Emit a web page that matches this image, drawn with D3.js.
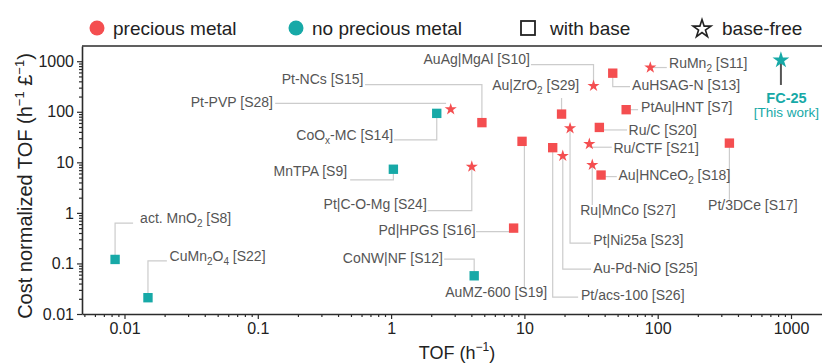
<!DOCTYPE html>
<html><head><meta charset="utf-8">
<script src="https://cdn.jsdelivr.net/npm/d3@7"></script>
<style>body{margin:0;background:#fff}svg{display:block;font-family:"Liberation Sans",Arial,Helvetica,sans-serif}</style>
</head><body><svg id="c" width="822" height="364"></svg>
<script>
// ---------- data ----------
const names = ["act. MnO_{2} [S8]","CuMn_{2}O_{4} [S22]","CoNW|NF [S12]","MnTPA [S9]","CoO_{x}-MC [S14]",
  "Pt-NCs [S15]","Pt-PVP [S28]","Pt|C-O-Mg [S24]","Pd|HPGS [S16]","AuMZ-600 [S19]","Pt/acs-100 [S26]",
  "Au-Pd-NiO [S25]","Pt|Ni25a [S23]","Ru|MnCo [S27]","Pt/3DCe [S17]","AuAg|MgAl [S10]","Au|ZrO_{2} [S29]",
  "AuHSAG-N [S13]","RuMn_{2} [S11]","PtAu|HNT [S7]","Ru/C [S20]","Ru/CTF [S21]","Au|HNCeO_{2} [S18]","FC-25"];
const tof  = [0.0085,0.015,4.2,1.04,2.2, 4.8,2.8,4.03,8.3,9.6,16.3, 19.4,22,32.3,345,33,19, 46,88,58,36.5,30.7,37.6, 840];
const cost = [0.12,0.021,0.057,7.3,93, 61,112,8.2,0.5,26,19.5, 13.4,47,8.9,24,325,90, 580,750,110,49,23.1,5.6, 1050];
const precious = [0,0,0,0,0, 1,1,1,1,1,1, 1,1,1,1,1,1, 1,1,1,1,1,1, 0];
const baseFree = [0,0,0,0,0, 0,1,1,0,0,0, 1,1,1,0,1,0, 0,1,0,0,1,0, 1];
const thisWork = "[This work]";

// annotation layout, expressed in data units (TOF, cost)
const leaders = [
  [[0.0085,0.12],[0.0085,0.63],[0.0116,0.63]],
  [[0.015,0.021],[0.015,0.112],[0.0208,0.112]],
  [[4.2,0.057],[4.2,0.122],[2.5,0.122]],
  [[1.04,7.3],[1.04,4.49],[0.493,4.49]],
  [[2.2,93],[2.2,27.7],[1.05,27.7]],
  [[4.8,61],[4.8,343],[0.638,343]],
  [[2.585,147],[0.135,147]],
  [[4.03,8.2],[4.03,1.11],[1.88,1.11]],
  [[8.3,0.427],[4.34,0.427]],
  [[10,26],[10,0.0325]],
  [[16.3,19.5],[16.3,0.0216],[25.3,0.0216]],
  [[19.4,13.4],[19.4,0.0772],[31.6,0.0772]],
  [[22,47],[22,0.252],[31.6,0.252]],
  [[32.3,8.9],[32.3,1.44]],
  [[345,24],[345,1.81]],
  [[33,325],[33,853],[11.2,853]],
  [[19,90],[19,187]],
  [[46,580],[46,313],[62,313]],
  [[88,750],[117,750]],
  [[58,110],[71.2,110]],
  [[36.5,43.7],[58.9,43.7]],
  [[30.7,19.9],[45.2,19.9]],
  [[37.6,5.22],[49.3,5.22]],
  [[840,1050],[840,339]]
];
const labelAt = [[0.0131,0.63],[0.0218,0.112],[2.45,0.104],[0.468,5.3],[1.035,27.7],
  [0.62,349],[0.13,127],[1.853,1.17],[4.3,0.367],[14.8,0.0214],[26.6,0.0191],
  [32.9,0.066],[32.9,0.233],[26.2,0.91],[238.6,1.15],[11.0,868],[25.8,270],
  [64.2,270],[121.6,720],[75,97],[60.4,34.8],[46.5,15.3],[50.7,4.49],[925,187]];
const labelAnchor = ["start","start","end","end","end","end","end","end","end","end","start",
  "start","start","start","start","end","end","start","start","start","start","start","start","middle"];
const thisWorkAt = [925,99];

const tickValues = [0.01,0.1,1,10,100,1000];
const tickLabels = ["0.01","0.1","1","10","100","1000"];
const legendLabels = ["precious metal","no precious metal","with base","base-free"];

// ---------- drawing ----------
const RED="#F44E50", TEAL="#17A9A7", LEAD="#cccccc", AX="#2b2b2b", TXT="#555555";
const svg = d3.select("#c");
const x = d3.scaleLog().domain([0.0048,1708]).range([82,822]);
const y = d3.scaleLog().domain([0.01,2000]).range([314,46]);
const [x0,x1]=x.range(), [yb,yt]=y.range();

function rich(sel, str, subSize, subDy){
  const parts = str.split(/(_\{[^}]*\}|\^\{[^}]*\})/).filter(s=>s.length);
  let shift=0;
  parts.forEach(p=>{
    if(p.startsWith("_{")||p.startsWith("^{")){
      const d = p[0]==="_" ? subDy : -subDy*1.6;
      sel.append("tspan").attr("font-size",subSize).attr("dy",d-shift).text(p.slice(2,-1));
      shift=d;
    } else {
      sel.append("tspan").attr("dy",-shift).text(p);
      shift=0;
    }
  });
}

// minor ticks
const minors=[];
for(let e=-3;e<=3;e++) for(let k=2;k<=9;k++){ minors.push(k*Math.pow(10,e)); }
const xMin = minors.filter(v=>v>x.domain()[0]&&v<x.domain()[1]);
const yMin = minors.filter(v=>v>y.domain()[0]&&v<y.domain()[1]);

const gx = svg.append("g").attr("transform",`translate(0,${yb})`);
gx.call(d3.axisBottom(x).tickValues(xMin).tickSize(3).tickSizeOuter(0).tickFormat(""));
gx.call(g=>g.select(".domain").remove());
const gx2 = svg.append("g").attr("transform",`translate(0,${yb})`)
  .call(d3.axisBottom(x).tickValues(tickValues).tickSize(5).tickSizeOuter(0).tickPadding(4).tickFormat((d,i)=>tickLabels[i]));
const gy = svg.append("g").attr("transform",`translate(${x0},0)`);
gy.call(d3.axisLeft(y).tickValues(yMin).tickSize(3).tickSizeOuter(0).tickFormat(""));
gy.call(g=>g.select(".domain").remove());
const gy2 = svg.append("g").attr("transform",`translate(${x0},0)`)
  .call(d3.axisLeft(y).tickValues(tickValues).tickSize(5).tickSizeOuter(0).tickPadding(3).tickFormat((d,i)=>tickLabels[i]));
svg.selectAll(".tick line").attr("stroke",AX).attr("stroke-width",1.2);
svg.selectAll(".domain").attr("stroke",AX).attr("stroke-width",1.6);
svg.selectAll(".tick text").attr("font-size",16).attr("fill","#222").attr("font-family",null);
// top frame line
svg.append("line").attr("x1",x0).attr("x2",x1).attr("y1",yt).attr("y2",yt).attr("stroke",AX).attr("stroke-width",1.6);

// axis titles
const xt = svg.append("text").attr("x",457).attr("y",359).attr("text-anchor","middle").attr("font-size",18).attr("fill","#222");
rich(xt,"TOF (h^{−1})",12,5);
const yt2 = svg.append("text").attr("transform",`translate(32,186) rotate(-90)`).attr("text-anchor","middle").attr("font-size",20).attr("fill","#222");
rich(yt2,"Cost normalized TOF (h^{−1} £^{−1})",13,5);

// leader lines
const line = d3.line().x(d=>x(d[0])).y(d=>y(d[1]));
svg.append("g").selectAll("path").data(leaders).join("path")
  .attr("d",line).attr("fill","none")
  .attr("stroke",(d,i)=>i===names.length-1?"#555":LEAD)
  .attr("stroke-width",(d,i)=>i===names.length-1?2:1.2);

// markers
const sym = d3.symbol();
svg.append("g").selectAll("path").data(names).join("path")
  .attr("transform",(d,i)=>`translate(${x(tof[i])},${y(cost[i])})`)
  .attr("d",(d,i)=> baseFree[i] ? sym.type(d3.symbolStar).size(i===names.length-1?88:46)() : sym.type(d3.symbolSquare).size(88)())
  .attr("fill",(d,i)=>precious[i]?RED:TEAL);

// labels
const lab = svg.append("g").attr("font-size",14).attr("fill",TXT);
names.forEach((n,i)=>{
  const t = lab.append("text").attr("x",x(labelAt[i][0])).attr("y",y(labelAt[i][1])).attr("dy","0.35em")
    .attr("text-anchor",labelAnchor[i]);
  if(i===names.length-1){ t.attr("fill",TEAL).attr("font-weight","bold").attr("font-size",14.5).text(n); }
  else rich(t,n,10,4);
});
lab.append("text").attr("x",x(thisWorkAt[0])).attr("y",y(thisWorkAt[1])).attr("dy","0.35em")
  .attr("text-anchor","middle").attr("fill",TEAL).attr("font-size",13.5).text(thisWork);

// legend
const lg = svg.append("g").attr("font-size",19).attr("fill","#222");
lg.append("circle").attr("cx",97).attr("cy",28).attr("r",7.5).attr("fill",RED);
lg.append("text").attr("x",113).attr("y",28).attr("dy","0.35em").text(legendLabels[0]);
lg.append("circle").attr("cx",296).attr("cy",28).attr("r",7.5).attr("fill",TEAL);
lg.append("text").attr("x",312).attr("y",28).attr("dy","0.35em").text(legendLabels[1]);
lg.append("rect").attr("x",521).attr("y",21).attr("width",14).attr("height",14).attr("fill","none").attr("stroke","#222").attr("stroke-width",1.8);
lg.append("text").attr("x",550).attr("y",28).attr("dy","0.35em").text(legendLabels[2]);
lg.append("path").attr("transform","translate(702,29)").attr("d",d3.symbol().type(d3.symbolStar).size(100)())
  .attr("fill","none").attr("stroke","#222").attr("stroke-width",1.6);
lg.append("text").attr("x",722).attr("y",28).attr("dy","0.35em").text(legendLabels[3]);
</script></body></html>
